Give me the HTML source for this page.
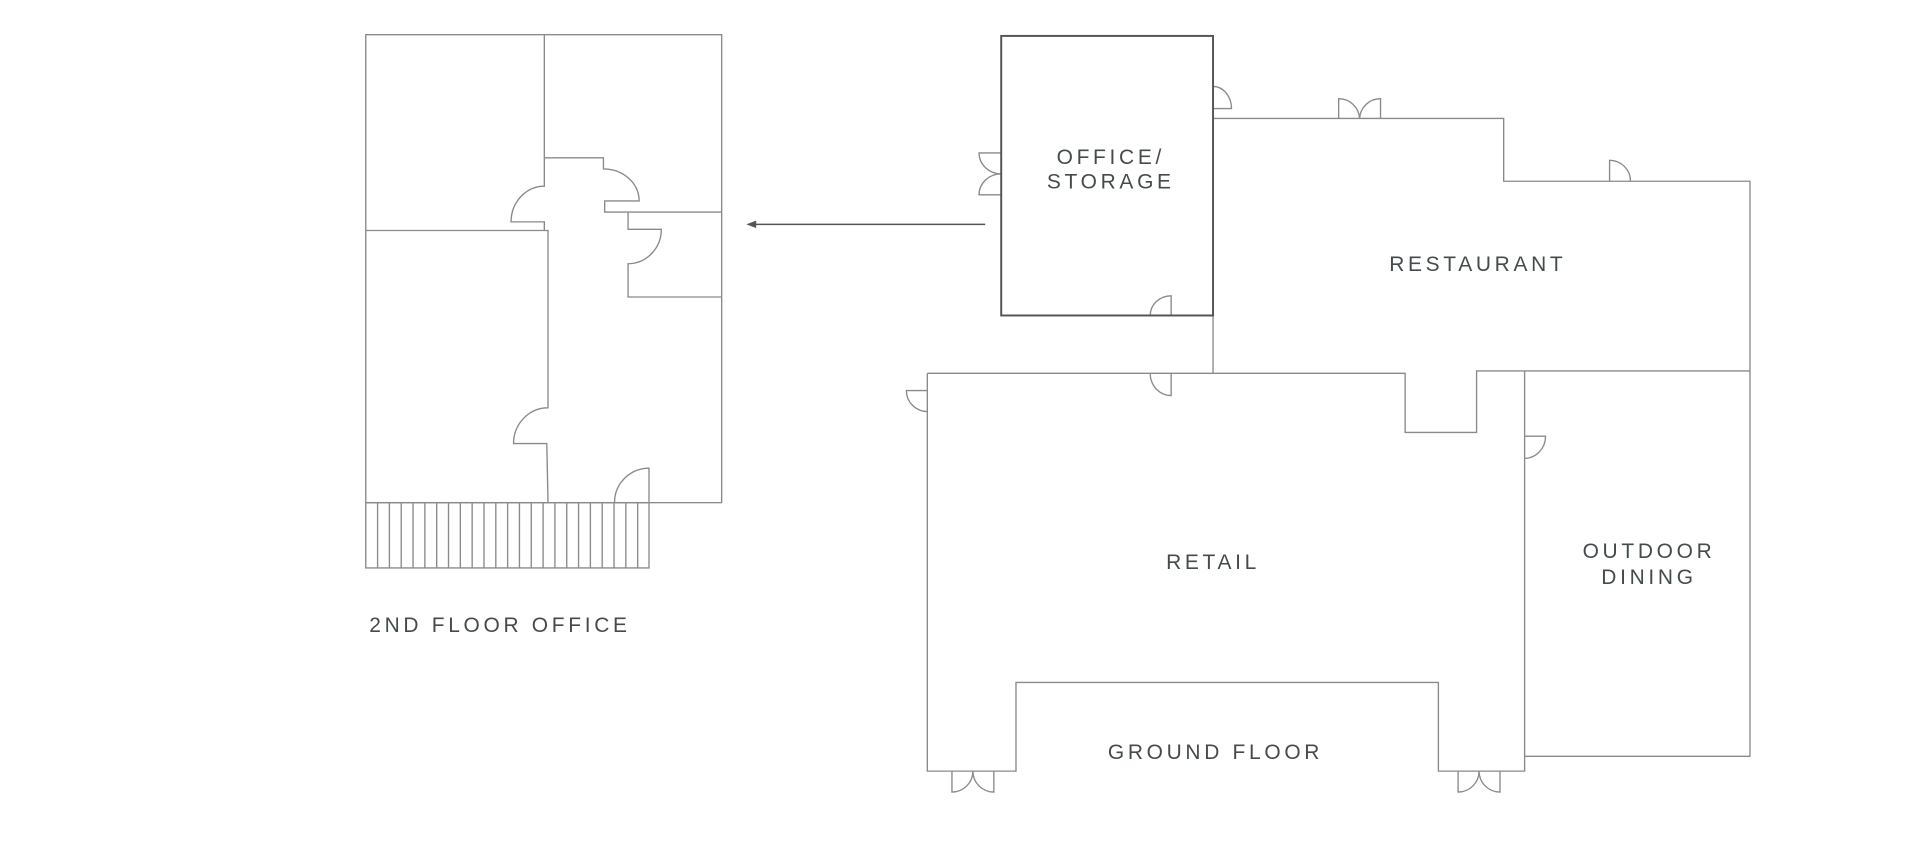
<!DOCTYPE html>
<html><head><meta charset="utf-8"><style>
html,body{margin:0;padding:0;background:#fff;}
svg{display:block;}
text{font-family:"Liberation Sans",sans-serif;font-size:17px;fill:#454b4c;letter-spacing:3px;text-anchor:middle;}
</style></head><body>
<svg width="1931" height="844" viewBox="0 0 1568 685" xmlns="http://www.w3.org/2000/svg">
<g fill="none" stroke="#8a8a8a" stroke-width="1.1">
<!-- 2nd floor -->
<rect x="297" y="28" width="289" height="380"/>
<path d="M442 28 V128 H490 V137 A29 26 0 0 1 519 163 H491 V172 H586"/>
<path d="M442 128 V151 A27 29 0 0 0 415 180 H442 V187 H297"/>
<path d="M442 187 H445 V331 A28 29 0 0 0 417 360 H444 L445 408"/>
<path d="M510 172 V186 H537 A27 28 0 0 1 510 214 V241 H586"/>
<path d="M527 408 V380 A28 28 0 0 0 499 408"/>
<rect x="297" y="408" width="230" height="53"/>
<path d="M306.6 408V461M316.2 408V461M325.8 408V461M335.4 408V461M345 408V461M354.6 408V461M364.2 408V461M373.8 408V461M383.4 408V461M393 408V461M402.6 408V461M412.2 408V461M421.8 408V461M431.4 408V461M441 408V461M450.6 408V461M460.2 408V461M469.8 408V461M479.4 408V461M489 408V461M498.6 408V461M508.2 408V461M517.8 408V461"/>
<!-- restaurant -->
<path d="M985 96 H1221 V147 H1421 V614 H1238"/>
<path d="M1087 96 V80 A17 17 0 0 1 1104 96 A17 17 0 0 1 1121 80 V96"/>
<path d="M1307 147 V130 A17 17 0 0 1 1324 147"/>
<path d="M985 256 V303"/>
<path d="M753 303 H1141 V351 H1199 V301 H1421"/>
<path d="M753 303 V626 H825 V554 H1168 V626 H1238 V301"/>
<path d="M753 317 H736 A17 17 0 0 0 753 334"/>
<path d="M951 303 V321 A17 18 0 0 1 934 303"/>
<path d="M1238 354 H1255 A17 18 0 0 1 1238 372"/>
<path d="M773 626 V643 A17 17 0 0 0 790 626 A17 17 0 0 0 807 643 V626"/>
<path d="M1184 626 V643 A17 17 0 0 0 1201 626 A17 17 0 0 0 1218 643 V626"/>
<!-- office doors -->
<path d="M985 70 A15 18 0 0 1 1000 88 H985"/>
<path d="M813 124 H795 A18 17 0 0 0 813 141 A18 17 0 0 0 795 158 H813"/>
<path d="M951 256 V240 A17 16 0 0 0 934 256"/>
</g>
<rect x="813" y="29" width="172" height="227" fill="none" stroke="#555" stroke-width="1.6"/>
<path d="M800 182 H610" stroke="#555" stroke-width="1.2"/>
<path d="M606 182 L614 179 L614 185 Z" fill="#555"/>
<text x="902" y="133">OFFICE/</text>
<text x="902" y="153">STORAGE</text>
<text x="1200" y="220">RESTAURANT</text>
<text x="985" y="462">RETAIL</text>
<text x="1339" y="453">OUTDOOR</text>
<text x="1339" y="474">DINING</text>
<text x="987" y="616">GROUND FLOOR</text>
<text x="406" y="513">2ND FLOOR OFFICE</text>
</svg>
</body></html>
